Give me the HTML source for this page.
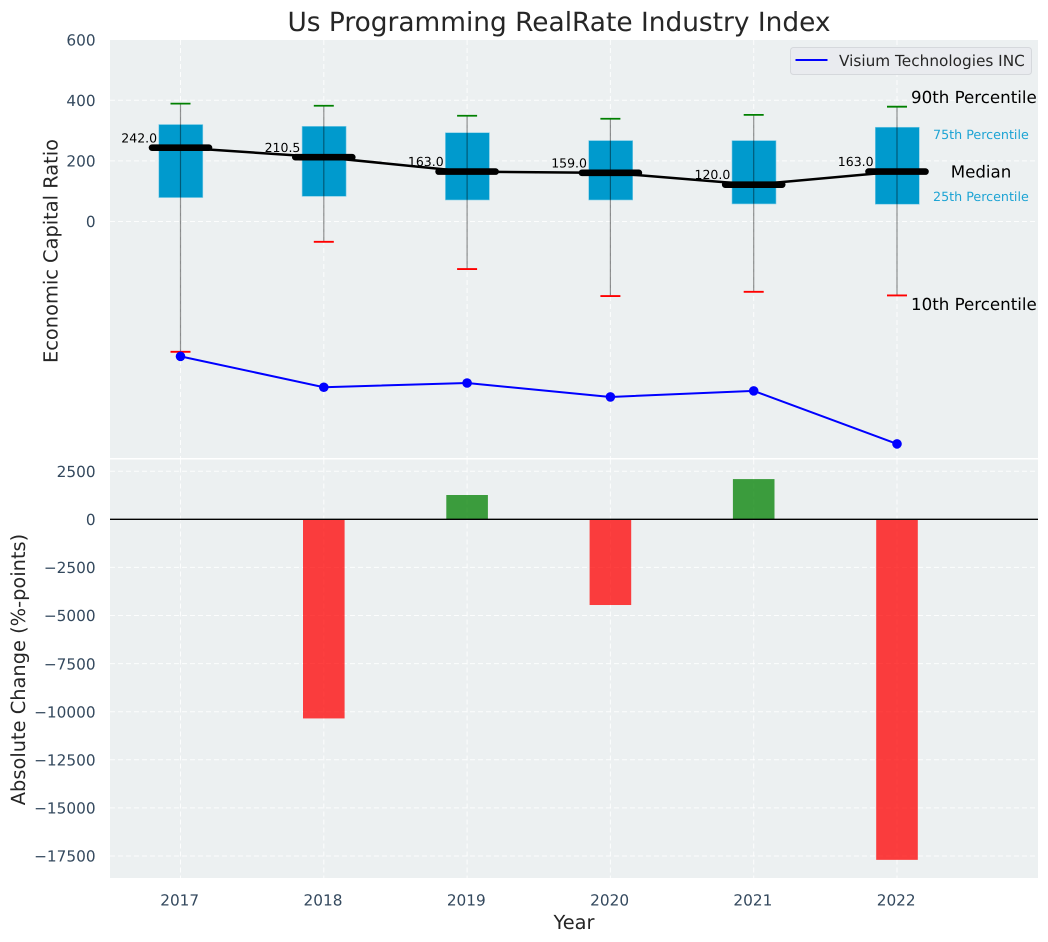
<!DOCTYPE html>
<html>
<head>
<meta charset="utf-8">
<title>Us Programming RealRate Industry Index</title>
<style>
html,body{margin:0;padding:0;background:#fff;}
svg{display:block;font-family:"DejaVu Sans","Liberation Sans",sans-serif;text-rendering:geometricPrecision;}
</style>
</head>
<body>
<svg id="chart" width="1048" height="942" viewBox="0 0 1048 942" xmlns="http://www.w3.org/2000/svg">
  <rect x="110" y="40" width="928" height="418" fill="#ecf0f1"/>
  <rect x="110" y="459.5" width="928" height="418.5" fill="#ecf0f1"/>
  <g id="grid"></g>
  <g id="marks"></g>
  <g id="axes"></g>
  <text x="559" y="31" text-anchor="middle" font-size="26.4" fill="#262626">Us Programming RealRate Industry Index</text>
  <text transform="translate(57.5,251) rotate(-90)" text-anchor="middle" font-size="19.4" fill="#262626">Economic Capital Ratio</text>
  <text transform="translate(25,669.5) rotate(-90)" text-anchor="middle" font-size="19.4" fill="#262626">Absolute Change (%-points)</text>
  <text x="574" y="929" text-anchor="middle" font-size="19.4" fill="#262626">Year</text>
  <g>
    <rect x="790.5" y="47.5" width="241" height="27" rx="3" fill="#e9ebef" stroke="#d5d8dc" stroke-width="1"/>
    <line x1="795.5" y1="60" x2="827.5" y2="60" stroke="#0000ff" stroke-width="2"/>
    <text x="839" y="66" font-size="15.3" fill="#262626">Visium Technologies INC</text>
  </g>
</svg>
<script>
const years = [2017, 2018, 2019, 2020, 2021, 2022];
const p90 = [389, 382, 349, 339, 352, 379];
const p75 = [320, 314, 293, 267, 267, 311];
const medians = [242.0, 210.5, 163.0, 159.0, 120.0, 163.0];
const p25 = [79, 83, 71, 71, 58, 57];
const p10 = [-430, -67, -157, -246, -232, -244];
const company = [-445, -547, -533, -579, -559, -734];
const changes = [0, -10350, 1263, -4455, 2090, -17700];
const topTicks = [0, 200, 400, 600];
const bottomTicks = [2500, 0, -2500, -5000, -7500, -10000, -12500, -15000, -17500];

const SVGNS = 'http://www.w3.org/2000/svg';
const gridG = document.getElementById('grid');
const marksG = document.getElementById('marks');
const axesG = document.getElementById('axes');

function xScale(year) { return 180.5 + (year - 2017) * 143.3; }
function yTop(v) { return 221.5 - v * 0.303; }
function yBottom(v) { return 519.3 - v * 0.01924; }

function draw(parent, tag, attrs, name, text) {
  const el = document.createElementNS(SVGNS, tag);
  for (const k in attrs) el.setAttribute(k, attrs[k]);
  
  
  if (text !== undefined) el.textContent = text;
  parent.appendChild(el);
  return el;
}

const gridStyle = { stroke: '#ffffff', 'stroke-width': 1, 'stroke-dasharray': '5,3', 'stroke-opacity': 0.85 };

years.forEach(function (yr) {
  const x = xScale(yr);
  draw(gridG, 'line', Object.assign({ x1: x, x2: x, y1: 40, y2: 458 }, gridStyle), 'top-x-grid-' + yr);
  draw(gridG, 'line', Object.assign({ x1: x, x2: x, y1: 459.5, y2: 878 }, gridStyle), 'bottom-x-grid-' + yr);
  draw(axesG, 'text', { x: x - 0.8, y: 905.3, 'text-anchor': 'middle', 'font-size': 15.3, fill: '#34495e' }, 'x-tick-' + yr, String(yr));
});

topTicks.forEach(function (t) {
  const y = yTop(t);
  if (t < 600) draw(gridG, 'line', Object.assign({ x1: 110, x2: 1038, y1: y, y2: y }, gridStyle), 'top-y-grid-' + t);
  draw(axesG, 'text', { x: 95.6, y: y + 5.7, 'text-anchor': 'end', 'font-size': 15.3, fill: '#34495e' }, 'top-y-tick-' + t, String(t));
});

bottomTicks.forEach(function (t) {
  const y = yBottom(t);
  draw(gridG, 'line', Object.assign({ x1: 110, x2: 1038, y1: y, y2: y }, gridStyle), 'bottom-y-grid-' + t);
  const label = (t < 0 ? '\u2212' : '') + Math.abs(t);
  draw(axesG, 'text', { x: 95.6, y: y + 5.7, 'text-anchor': 'end', 'font-size': 15.3, fill: '#34495e' }, 'bottom-y-tick-' + t, label);
});

/* bars */
changes.forEach(function (v, i) {
  if (v === 0) return;
  const x = xScale(years[i]);
  const y0 = yBottom(0), y1 = yBottom(v);
  draw(marksG, 'rect', {
    x: x - 20.8, y: Math.min(y0, y1), width: 41.6, height: Math.abs(y1 - y0),
    fill: v < 0 ? '#ff0000' : '#008000', 'fill-opacity': 0.75
  }, 'change-bar-' + years[i]);
});
draw(marksG, 'line', { x1: 110, x2: 1038, y1: yBottom(0), y2: yBottom(0), stroke: '#000000', 'stroke-width': 1.3 }, 'zero-line');

/* boxes and whiskers */
years.forEach(function (yr, i) {
  const x = xScale(yr);
  draw(marksG, 'rect', {
    x: x - 21.7, y: yTop(p75[i]), width: 44, height: yTop(p25[i]) - yTop(p75[i]),
    fill: '#009ACD', stroke: '#7fcce6', 'stroke-width': 0.6
  }, 'box-' + yr);
  draw(marksG, 'line', { x1: x, x2: x, y1: yTop(p90[i]), y2: yTop(p10[i]), stroke: '#000000', 'stroke-opacity': 0.42, 'stroke-width': 1.2 }, 'whisker-' + yr);
  draw(marksG, 'line', { x1: x - 10, x2: x + 10, y1: yTop(p90[i]), y2: yTop(p90[i]), stroke: '#008000', 'stroke-width': 1.8 }, 'p90-cap-' + yr);
  draw(marksG, 'line', { x1: x - 10, x2: x + 10, y1: yTop(p10[i]), y2: yTop(p10[i]), stroke: '#ff0000', 'stroke-width': 1.8 }, 'p10-cap-' + yr);
});

/* median trend line */
draw(marksG, 'polyline', {
  points: years.map(function (yr, i) { return xScale(yr) + ',' + (yTop(medians[i]) - 0.5); }).join(' '),
  fill: 'none', stroke: '#000000', 'stroke-width': 2.5
}, 'median-line');

years.forEach(function (yr, i) {
  const x = xScale(yr), y = yTop(medians[i]) - 0.5;
  draw(marksG, 'line', { x1: x - 28.5, x2: x + 28.5, y1: y, y2: y, stroke: '#000000', 'stroke-width': 6.6, 'stroke-linecap': 'round' }, 'median-bar-' + yr);
  draw(marksG, 'text', { x: x - 23.4, y: y - 5.4, 'text-anchor': 'end', 'font-size': 12.5, fill: '#000000' }, 'median-label-' + yr, medians[i].toFixed(1));
});

/* company series */
draw(marksG, 'polyline', {
  points: years.map(function (yr, i) { return xScale(yr) + ',' + yTop(company[i]); }).join(' '),
  fill: 'none', stroke: '#0000ff', 'stroke-width': 2
}, 'company-line');
years.forEach(function (yr, i) {
  draw(marksG, 'circle', { cx: xScale(yr), cy: yTop(company[i]), r: 4.8, fill: '#0000ff' }, 'company-point-' + yr);
});

/* percentile annotations beside the last box */
const lastIndex = years.length - 1;
const lastX = xScale(years[lastIndex]);
draw(marksG, 'text', { x: lastX + 14, y: yTop(p90[lastIndex]) - 3.9, 'font-size': 16.67, fill: '#000000' }, 'p90-annotation', '90th Percentile');
draw(marksG, 'text', { x: lastX + 36, y: yTop(p75[lastIndex]) + 11.9, 'font-size': 12.7, fill: '#1ea4d4' }, 'p75-annotation', '75th Percentile');
draw(marksG, 'text', { x: lastX + 84, y: yTop(medians[lastIndex]) + 5.3, 'text-anchor': 'middle', 'font-size': 16.67, fill: '#000000' }, 'median-annotation', 'Median');
draw(marksG, 'text', { x: lastX + 36, y: yTop(p25[lastIndex]) - 3.3, 'font-size': 12.7, fill: '#1ea4d4' }, 'p25-annotation', '25th Percentile');
draw(marksG, 'text', { x: lastX + 14, y: yTop(p10[lastIndex]) + 14.6, 'font-size': 16.67, fill: '#000000' }, 'p10-annotation', '10th Percentile');
</script>
</body>
</html>
